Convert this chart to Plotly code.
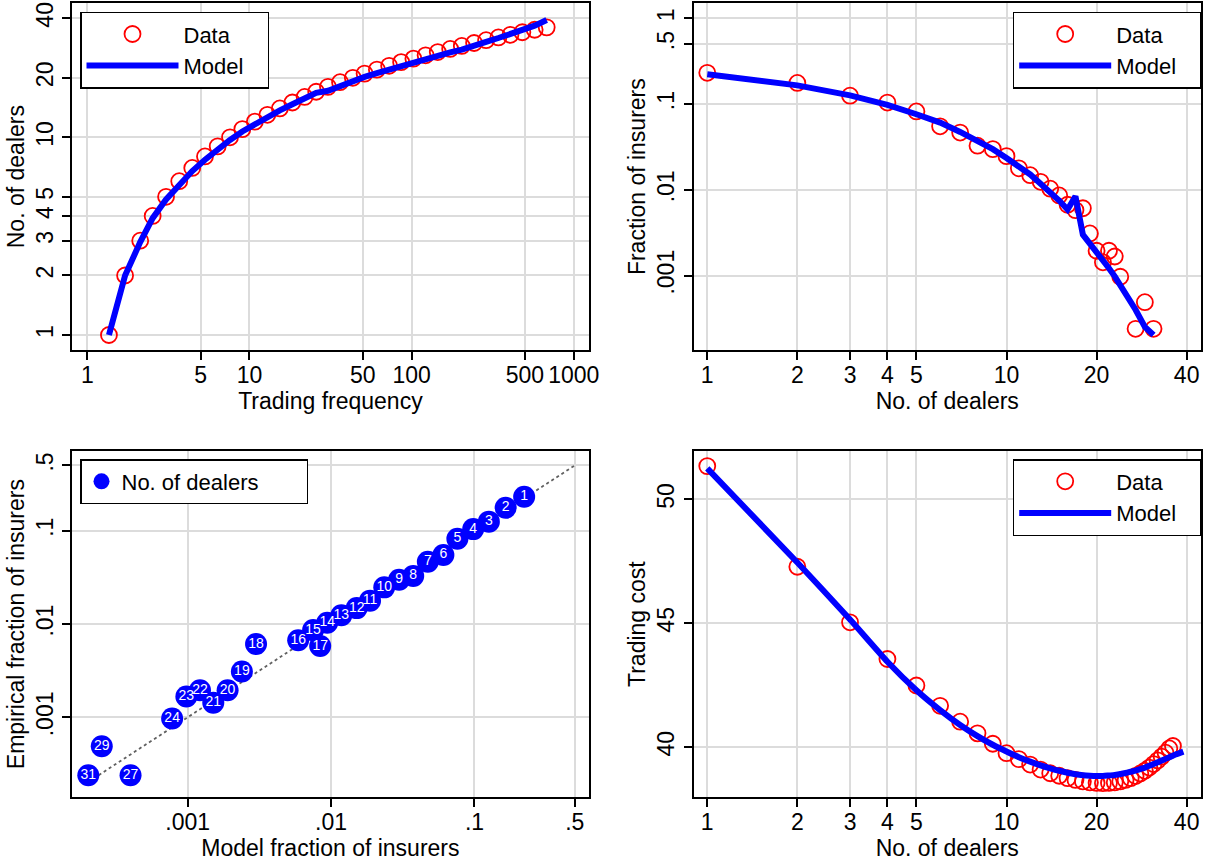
import plotly.graph_objects as go

# ---------------- data ----------------
# Panel A: number of dealers vs trading frequency
freq = [1.36, 1.71, 2.12, 2.53, 3.06, 3.69, 4.44, 5.32, 6.37, 7.59, 9.04, 10.8,
        12.9, 15.4, 18.4, 21.9, 25.8, 30.5, 36.2, 43.4, 51.3, 61.1, 72.7, 86.2,
        102.6, 122, 145, 173, 204, 243, 288, 343, 407, 482, 574, 681]
dealers_data = list(range(1, 37))
dealers_model = [1.0, 2.0, 2.95, 3.9, 4.85, 5.8, 6.75, 7.7, 8.7, 9.7, 10.7, 11.7,
                 12.7, 13.7, 14.7, 15.7, 16.8, 17.2, 18.2, 19.3, 20.2, 21.1, 22.0, 23.0,
                 24.0, 25.0, 26.0, 26.9, 27.8, 28.9, 30.4, 31.8, 33.3, 34.8, 36.7, 39.2]

# Panel B / C: fraction of insurers by number of dealers
n_dealers = list(range(1, 25)) + [27, 29, 31]
frac_emp = [0.231, 0.176, 0.125, 0.104, 0.082, 0.055, 0.0465, 0.0327, 0.0298, 0.0247,
            0.0178, 0.0148, 0.0124, 0.0103, 0.0086, 0.0067, 0.0058, 0.0061, 0.0031,
            0.00195, 0.00143, 0.00195, 0.00167, 0.00097, 0.00024, 0.00049, 0.00024]
frac_model = [0.222, 0.165, 0.126, 0.098, 0.076, 0.0607, 0.0473, 0.0374, 0.0298, 0.0235,
              0.0187, 0.0151, 0.0118, 0.0094, 0.0075, 0.0059, 0.0084, 0.0030, 0.00239,
              0.0019, 0.00151, 0.00122, 0.00098, 0.00078, 0.00040, 0.000252, 0.000203]
diag = [0.00024, 0.5]

# Panel D: trading cost
cost_n_data = list(range(1, 37))
cost_data = [51.34, 47.28, 45.04, 43.56, 42.49, 41.67, 41.03, 40.56, 40.14, 39.76,
             39.52, 39.3, 39.1, 38.95, 38.85, 38.75, 38.68, 38.62, 38.58, 38.56,
             38.55, 38.56, 38.58, 38.62, 38.68, 38.75, 38.84, 38.94, 39.05, 39.18,
             39.32, 39.47, 39.62, 39.78, 39.95, 40.05]
cost_n_model = list(range(1, 40))
cost_model = [51.25, 47.45, 45.15, 43.45, 42.3, 41.5, 40.9, 40.45, 40.1, 39.83,
              39.6, 39.42, 39.27, 39.15, 39.05, 38.97, 38.91, 38.87, 38.85, 38.84,
              38.84, 38.86, 38.88, 38.92, 38.96, 39.01, 39.06, 39.12, 39.18, 39.25,
              39.32, 39.39, 39.46, 39.53, 39.6, 39.66, 39.72, 39.77, 39.82]

# tick labels
tl_xticks = [1, 5, 10, 50, 100, 500, 1000]
tl_yticks = [1, 2, 3, 4, 5, 10, 20, 40]
n_ticks = [1, 2, 3, 4, 5, 10, 20, 40]
frac_ticks = [0.001, 0.01, 0.1, 0.5, 1]
frac_ticklabels = [".001", ".01", ".1", ".5", "1"]
bl_ticks = [0.001, 0.01, 0.1, 0.5]
bl_ticklabels = [".001", ".01", ".1", ".5"]
cost_ticks = [40, 45, 50]

# ---------------- styling ----------------
FONT = "Liberation Sans, Arial, Helvetica, sans-serif"
FS = 23
RED = "#ff0000"
BLUE = "#0000ff"
GRID = "#dcdcdc"
PAD = "\u00a0" * 3     # right padding inside legend boxes

fig = go.Figure()

data_marker = dict(symbol="circle-open", size=16, color=RED, line=dict(width=1.8, color=RED))
model_line = dict(color=BLUE, width=6)

# Panel A
fig.add_trace(go.Scatter(x=freq, y=dealers_data, mode="markers", marker=data_marker,
                         name="Data", xaxis="x", yaxis="y", legend="legend"))
fig.add_trace(go.Scatter(x=freq, y=dealers_model, mode="lines", line=model_line,
                         name="Model" + PAD, xaxis="x", yaxis="y", legend="legend"))
# Panel B
fig.add_trace(go.Scatter(x=n_dealers, y=frac_emp, mode="markers", marker=data_marker,
                         name="Data", xaxis="x2", yaxis="y2", legend="legend2"))
fig.add_trace(go.Scatter(x=n_dealers, y=frac_model, mode="lines", line=model_line,
                         name="Model" + PAD, xaxis="x2", yaxis="y2", legend="legend2"))
# Panel C
fig.add_trace(go.Scatter(x=diag, y=diag, mode="lines",
                         line=dict(color="#606060", width=1.8, dash="3px,3px"),
                         showlegend=False, xaxis="x3", yaxis="y3", hoverinfo="skip"))
fig.add_trace(go.Scatter(x=frac_model, y=frac_emp, mode="markers",
                         marker=dict(size=22, color=BLUE, line=dict(width=0)),
                         name="No. of dealers" + "\u00a0" * 7, xaxis="x3", yaxis="y3",
                         legend="legend3"))
fig.add_trace(go.Scatter(x=frac_model, y=frac_emp, mode="text",
                         text=[str(n) for n in n_dealers], textposition="middle center",
                         textfont=dict(family=FONT, size=14, color="white"),
                         showlegend=False, xaxis="x3", yaxis="y3"))
# Panel D
fig.add_trace(go.Scatter(x=cost_n_data, y=cost_data, mode="markers", marker=data_marker,
                         name="Data", xaxis="x4", yaxis="y4", legend="legend4"))
fig.add_trace(go.Scatter(x=cost_n_model, y=cost_model, mode="lines",
                         line=dict(color=BLUE, width=6, shape="spline", smoothing=0.6),
                         name="Model" + PAD, xaxis="x4", yaxis="y4", legend="legend4"))


def ax(domain, rng, tickvals, ticktext=None, title="", log=True, vertical=False, anchor=None):
    d = dict(
        domain=domain, range=rng, type="log" if log else "linear",
        tickmode="array", tickvals=tickvals,
        ticktext=ticktext if ticktext is not None else [str(v) for v in tickvals],
        showline=True, linecolor="black", linewidth=2, mirror=True,
        ticks="outside", ticklen=8, tickwidth=1.5, tickcolor="black",
        showgrid=True, gridcolor=GRID, gridwidth=1.6, zeroline=False,
        tickfont=dict(family=FONT, size=FS, color="black"),
        title=dict(text=title, font=dict(family=FONT, size=FS, color="black")),
        automargin=False, anchor=anchor, fixedrange=True,
    )
    if vertical:
        d["tickangle"] = -90
        d["title"]["standoff"] = 1
    else:
        d["tickangle"] = 0
        d["ticklabelstandoff"] = -5
        d["title"]["standoff"] = 4
    return d


W, H = 1219, 863
xL = [72.3 / W, 588.5 / W]
xR = [693.5 / W, 1201 / W]
yT = [1 - 350 / H, 1 - 3.3 / H]
yB = [1 - 797.3 / H, 1 - 451 / H]

legend_common = dict(bordercolor="black", borderwidth=1.5, bgcolor="white",
                     font=dict(family=FONT, size=22, color="black"),
                     xanchor="left", yanchor="top", itemwidth=92, tracegroupgap=0)

fig.update_layout(
    width=W, height=H,
    margin=dict(l=0, r=0, t=0, b=0),
    paper_bgcolor="white", plot_bgcolor="white",
    font=dict(family=FONT, size=FS, color="black"),
    xaxis=ax(xL, [-0.0925, 3.091], tl_xticks, title="Trading frequency", anchor="y"),
    yaxis=ax(yT, [-0.076, 1.678], tl_yticks, title="No. of dealers", vertical=True, anchor="x"),
    xaxis2=ax(xR, [-0.046, 1.650], n_ticks, title="No. of dealers", anchor="y2"),
    yaxis2=ax(yT, [-3.867, 0.174], frac_ticks, frac_ticklabels, title="Fraction of insurers",
              vertical=True, anchor="x2"),
    xaxis3=ax(xL, [-3.804, -0.205], bl_ticks, bl_ticklabels, title="Model fraction of insurers",
              anchor="y3"),
    yaxis3=ax(yB, [-3.857, -0.146], bl_ticks, bl_ticklabels, title="Empirical fraction of insurers",
              vertical=True, anchor="x3"),
    xaxis4=ax(xR, [-0.046, 1.650], n_ticks, title="No. of dealers", anchor="y4"),
    yaxis4=ax(yB, [37.98, 51.95], cost_ticks, title="Trading cost", log=False,
              vertical=True, anchor="x4"),
    legend=dict(x=80 / W, y=1 - 11.7 / H, **legend_common),
    legend2=dict(x=1012.7 / W, y=1 - 11.7 / H, **legend_common),
    legend3=dict(x=80 / W, y=1 - 459 / H, **{**legend_common, "itemwidth": 30}),
    legend4=dict(x=1012.7 / W, y=1 - 459 / H, **legend_common),
    showlegend=True,
)

fig.write_html("out.html", config={"displayModeBar": False},
               post_script="document.body.style.margin='0px';")
